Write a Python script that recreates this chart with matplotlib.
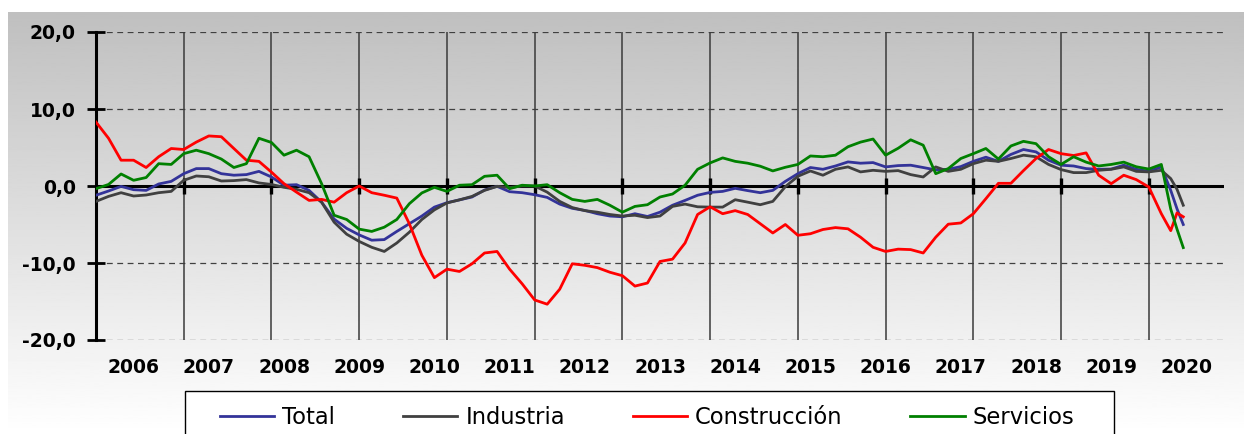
import numpy as np
import matplotlib
matplotlib.use("Agg")
import matplotlib.pyplot as plt
from matplotlib.patches import Rectangle

# ---------------- data (month index: 0 = Jan 2006) ----------------
months = list(range(0, 171, 2)) + [171.5, 172.5, 173.5]

total = [
    -1.2, -0.65, -0.05, -0.48, -0.57, 0.26, 0.6, 1.6, 2.26, 2.26,
    1.6, 1.4, 1.48, 1.9, 1.17, 0.1, 0.17, -0.57, -2.1, -4.3,
    -5.5, -6.35, -7.04, -6.96, -5.9, -4.9, -3.9, -2.74, -2.17, -1.8,
    -1.43, -0.52, -0.04, -0.74, -0.87, -1.13, -1.48, -2.35, -2.9, -3.17,
    -3.6, -3.9, -4.0, -3.6, -3.96, -3.4, -2.5, -1.87, -1.2, -0.83,
    -0.7, -0.3, -0.6, -0.87, -0.57, 0.6, 1.6, 2.4, 2.17, 2.6,
    3.13, 2.96, 3.04, 2.48, 2.65, 2.7, 2.4, 2.09, 2.17, 2.52,
    3.2, 3.74, 3.2, 4.1, 4.74, 4.43, 3.35, 2.7, 2.6, 2.26,
    2.17, 2.2, 2.7, 2.17, 1.9, 2.48,
    -0.57, -2.96, -5.0]

industria = [
    -2.0, -1.35, -0.87, -1.3, -1.17, -0.87, -0.7, 0.74, 1.3, 1.2,
    0.65, 0.7, 0.83, 0.4, 0.2, -0.17, -0.43, -0.87, -2.1, -4.7,
    -6.26, -7.2, -7.96, -8.5, -7.4, -6.0, -4.35, -3.1, -2.2, -1.8,
    -1.35, -0.57, -0.04, -0.2, 0.0, 0.0, -0.8, -2.0, -2.8, -3.2,
    -3.4, -3.7, -3.9, -3.8, -4.1, -3.9, -2.65, -2.35, -2.7, -2.74,
    -2.74, -1.78, -2.1, -2.43, -2.0, -0.09, 1.26, 1.95, 1.4, 2.17,
    2.48, 1.83, 2.04, 1.9, 2.0, 1.48, 1.17, 2.48, 1.9, 2.17,
    2.9, 3.35, 3.2, 3.57, 4.0, 3.8, 2.8, 2.13, 1.74, 1.74,
    2.04, 2.17, 2.48, 1.9, 1.83, 2.04,
    0.96, -0.43, -2.5]

construccion = [
    8.3, 6.2, 3.35, 3.35, 2.4, 3.8, 4.87, 4.74, 5.7, 6.5,
    6.4, 4.87, 3.35, 3.2, 1.8, 0.3, -0.8, -1.87, -1.74, -2.1,
    -0.87, 0.0, -0.87, -1.2, -1.57, -4.9, -9.0, -11.9, -10.8, -11.1,
    -10.1, -8.7, -8.5, -10.8, -12.7, -14.8, -15.35, -13.4, -10.1, -10.3,
    -10.6, -11.2, -11.65, -13.0, -12.6, -9.8, -9.5, -7.4, -3.7, -2.7,
    -3.6, -3.2, -3.7, -4.9, -6.1, -5.0, -6.4, -6.2, -5.65, -5.4,
    -5.56, -6.65, -7.96, -8.5, -8.2, -8.26, -8.7, -6.65, -4.96, -4.8,
    -3.6, -1.65, 0.35, 0.35, 2.0, 3.57, 4.74, 4.2, 3.96, 4.3,
    1.4, 0.3, 1.4, 0.83, -0.13, -3.6,
    -5.8, -3.5, -4.0]

servicios = [
    -0.35, 0.2, 1.56, 0.74, 1.1, 2.9, 2.8, 4.2, 4.65, 4.2,
    3.5, 2.4, 2.9, 6.2, 5.65, 4.0, 4.65, 3.8, 0.3, -3.8,
    -4.35, -5.6, -5.9, -5.35, -4.35, -2.3, -0.9, -0.17, -0.7, 0.1,
    0.17, 1.26, 1.4, -0.35, 0.1, 0.0, 0.17, -0.87, -1.74, -2.0,
    -1.74, -2.5, -3.4, -2.65, -2.43, -1.43, -1.04, 0.1, 2.17, 3.0,
    3.65, 3.2, 2.96, 2.57, 1.96, 2.43, 2.8, 3.9, 3.8, 4.0,
    5.1, 5.7, 6.1, 4.0, 4.9, 6.0, 5.3, 1.6, 2.26, 3.57,
    4.2, 4.87, 3.5, 5.2, 5.8, 5.5, 3.8, 2.8, 3.8, 3.1,
    2.6, 2.8, 3.1, 2.5, 2.2, 2.8,
    -3.0, -5.6, -8.0]

series_names = ["Total", "Industria", "Construcción", "Servicios"]
series_colors = ["#333399", "#404040", "#ff0000", "#008000"]

years = [str(y) for y in range(2006, 2021)]
year_pos = [6 + 12 * i for i in range(len(years))]
divider_pos = [14 * k for k in range(1, 13)]
y_ticks = [-20, -10, 0, 10, 20]
y_labels = ["-20,0", "-10,0", "0,0", "10,0", "20,0"]

# ---------------- figure ----------------
W, H = 1244, 434
fig = plt.figure(figsize=(W / 100, H / 100), dpi=100)
fig.patch.set_facecolor("white")

# gradient background panel
bg = fig.add_axes([8 / W, 0, (W - 8) / W, (H - 12) / H], zorder=0)
grad = np.linspace(0.75, 1.0, 256).reshape(-1, 1)
bg.imshow(grad, aspect="auto", cmap="gray", vmin=0, vmax=1,
          extent=[0, 1, 0, 1], origin="upper")
bg.set_axis_off()

ax = fig.add_axes([96 / W, 1 - 340 / H, (1224 - 96) / W, (340 - 32) / H], zorder=1)
ax.set_facecolor("none")
ax.set_xlim(0, 180)
ax.set_ylim(-20, 20)

for sp in ["top", "right", "bottom"]:
    ax.spines[sp].set_visible(False)
ax.spines["left"].set_linewidth(2.2)
ax.spines["left"].set_color("black")

# gridlines
for yv in [-20, -10, 10, 20]:
    ax.axhline(yv, color="#404040", lw=0.9, dashes=(4.7, 3.6), zorder=1)
for xv in divider_pos:
    ax.axvline(xv, color="#3a3a3a", lw=1.1, zorder=1)
ax.axhline(0, color="black", lw=2.2, zorder=2)
ax.plot(divider_pos, [0] * len(divider_pos), ls="none", marker="|",
        ms=11, mew=2.4, color="black", zorder=2)

lines = []
for vals, name, col in zip([total, industria, construccion, servicios],
                           series_names, series_colors):
    ln, = ax.plot(months, vals, color=col, lw=2.0, label=name, zorder=3,
                  solid_joinstyle="round")
    lines.append(ln)

ax.set_yticks(y_ticks)
ax.set_yticklabels(y_labels, fontsize=13.5, fontweight="bold")
ax.tick_params(axis="y", direction="inout", length=13, width=2, pad=8,
               color="black")

ax.set_xticks(year_pos)
ax.set_xticklabels(years, fontsize=13.5, fontweight="bold")
ax.tick_params(axis="x", length=0, pad=13)

# legend frame (cut off at the bottom like the reference)
fig.patches.append(Rectangle((185 / W, -0.1), (1114 - 185) / W, 0.1 + 1 - 391 / H,
                             transform=fig.transFigure, facecolor="white",
                             edgecolor="black", lw=1.0, zorder=2))
leg = fig.legend(handles=lines, loc="center left",
                 bbox_to_anchor=(220 / W, 1 - 417 / H), bbox_transform=fig.transFigure,
                 ncol=4, frameon=False, fontsize=16.3, handlelength=2.4,
                 handletextpad=0.35, columnspacing=3.0, borderpad=0, borderaxespad=0)
leg.set_zorder(3)

fig.savefig("out.png", dpi=100)
